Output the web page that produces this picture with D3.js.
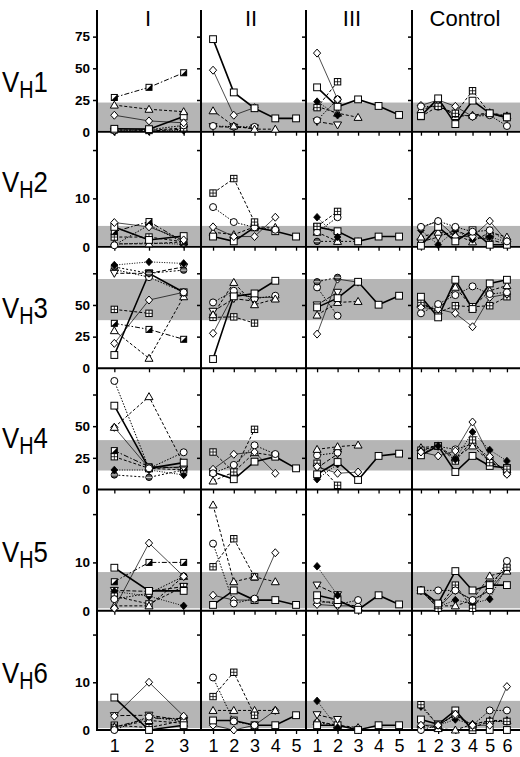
<!DOCTYPE html>
<html><head><meta charset="utf-8">
<script src="https://cdn.jsdelivr.net/npm/d3@7"></script>
<style>body{margin:0;background:#fff}svg{display:block}</style>
</head><body>
<svg id="c" width="520" height="757"></svg>
<script>
// ---------- DATA ----------
const columns = ["I", "II", "III", "Control"];
const rowNames = ["1", "2", "3", "4", "5", "6"];
const timepoints = [[1,2,3],[1,2,3,4,5],[1,2,3,4,5],[1,2,3,4,5,6]];
const rowMax = [96, 23.8, 96, 95.7, 25.1, 25];
const rowTicks = [[25,50,75],[10,20],[25,50,75],[25,50,75],[10,20],[10,20]];
const rowTickLabels = [[0,25,50,75],[0,10],[0,25,50],[0,25,50],[0,10],[0,10]];
const normalBand = [[1,23],[0.3,4.3],[38,70.5],[15,39],[0.5,8],[0.4,6.1]];

const VH1_I = [["hs",[27,35,46.5]],["tr",[21,17.7,15.8]],["di",[13,8.5,7]],["sq",[2.3,2,12]],["ci",[1,1.5,5]],["xs",[1.5,1,3]],["fd",[0.5,0.5,1]],["it",[0.3,0.5,2]]];
const VH1_II = [["sq",[73,31,18.5,10.5,10.5]],["di",[48.5,13,19]],["tr",[16.5,4.5,2,2]],["ci",[4.5,4,3.8]],["it",[4,3.5,3]]];
const VH1_III = [["di",[62,25.5]],["sq",[35,19.7,25.5,20.3,13.2]],["xs",[19,39.4]],["fd",[23.7,13]],["ci",[9,25.5]],["tr",[20,14.6,11.3]],["it",[8,5.3]]];
const VH1_C = [["sq",[12.4,26.3,6,24.5,14.5,11.3]],["xs",[12,20,14.5,32.3,14.5,12]],["ci",[20,19.7,14,12,13,4.5]],["di",[20.7,25,20,12,14.5,10.5]],["tr",[17,21.7,12,13,15,12.5]]];

const VH2_I = [["di",[5,4.1,1.4]],["sq",[4.1,1.4,2.2]],["hs",[3.1,5.2,1]],["ci",[0.3,4.5,0.8]],["xs",[2,2,1]],["tr",[0.6,0.6,1]],["fd",[0.5,0.8,0.5]]];
const VH2_II = [["xs",[11.1,14.1,5.1]],["ci",[8.2,5.1,4,3.5]],["di",[4.1,2.1,2.1,6.1]],["sq",[2.1,1.1,4,3.2,2.1]],["tr",[3,2.5,4.1,4]]];
const VH2_III = [["fd",[6.1,2]],["xs",[4.2,7.3]],["ci",[3,6.1]],["sq",[4.1,3.2,1.1,2.1,2.1]],["tr",[3,1.1]],["hx",[1.1,1.1,1.1]]];
const VH2_C = [["ci",[4.1,5.3,4.1,3.1,3.4,1.1]],["sq",[0.2,4.1,1.1,3.4,0.4,0.4]],["di",[3.9,5.3,2.1,2.1,5.3,1.1]],["fd",[3.4,0.4,3.4,1.5,2,1]],["tr",[2,3,2.5,1,3,2]],["it",[1,2,3.4,2,1.5,0.5]]];

const VH3_I = [["fd",[81.5,84,82.8]],["hx",[80,75,77.5]],["it",[75,75,80]],["ci",[78,72,60]],["sq",[10.5,75,60]],["di",[19.7,53.9,60]],["tr",[29.7,7.9,56.5]],["xs",[46.5,43.4]],["hs",[35.5,30.7,22.9]]];
const VH3_II = [["sq",[7.3,56.8,59.1,69.1]],["tr",[42.3,67.8,50.2,54.7]],["ci",[52,61.2,55,57.3]],["di",[27.6,58.6,56,56]],["xs",[40.2,40.6,35.7]],["it",[45,55,53]]];
const VH3_III = [["sq",[48.1,55.4,68.3,50.2,57.3]],["hx",[68.3,71.8]],["ci",[63.9,41.5]],["tr",[42,52,52.8]],["di",[27,70.4,68]],["it",[50,60]]];
const VH3_C = [["sq",[56.5,40.2,69.9,46.8,67,69.9]],["ci",[43.4,50.7,57.8,64.7,58.6,60]],["di",[48,46.8,43.4,32.8,56,58.6]],["xs",[52,44,49.4,48.6,49.4,56.5]],["tr",[50.7,45.4,64,48,61.2,65.3]]];

const VH4_I = [["ci",[85.7,16.7,29.4]],["sq",[66.2,16.7,21.2]],["tr",[49.1,73.3,20.1]],["di",[49.1,16.7,18]],["hs",[30.7,18,17]],["xs",[25.9,16.7,15.5]],["fd",[15.4,15.4,11.5]],["hx",[11.5,9.6,15.4]]];
const VH4_II = [["xs",[29.6,13.8,47.5]],["ci",[12.8,19.4,34.9,28]],["di",[16,27.8,29.6,12.8]],["sq",[13.8,8.1,22,25.9,16.7]],["tr",[6.7,13.8,29.1,26.5]]];
const VH4_III = [["tr",[31.7,33.8,35.1]],["sq",[12,21.7,7.5,26.5,28.3]],["ci",[27,29.1]],["di",[18,12.8,13.8]],["xs",[20.7,3.3]],["fd",[8.1,20]],["it",[17,28]]];
const VH4_C = [["di",[29.6,26.5,30.4,53.3,26,12]],["fd",[30.4,34.4,23.9,45.4,31.2,22.5]],["xs",[31,34.4,22.5,39.1,21.2,16]],["sq",[27,34.4,13.8,26.5,18.6,17]],["tr",[33,34.4,25.1,34.4,22,16]],["ci",[28.3,34,31.7,35.9,25.1,12.8]]];

const VH5_I = [["di",[0.5,14,7.1]],["sq",[8.9,4.1,4.1]],["hs",[6,10,10]],["ci",[2.4,3.6,7.1]],["tr",[1,1,7.1]],["xs",[3,1.4,5]],["fd",[4,3,1]],["it",[4.2,4,5]]];
const VH5_II = [["tr",[21.9,6,7,6]],["ci",[13.9,1.5,2.5]],["xs",[9.1,14.9,7]],["di",[3.2,2.2,2.2,12]],["sq",[1.2,4.2,2.2,2.2,1.2]]];
const VH5_III = [["fd",[9.2,3.2]],["it",[5.3,3.3]],["sq",[3.2,2.2,0.2,3.2,1.3]],["ci",[2.2,1.3,2.2]],["di",[1.3,1,1]],["tr",[1.8,1.8,0.8]]];
const VH5_C = [["sq",[4.2,1.5,8.2,4.2,5.3,5.3]],["ci",[4.2,4.2,4.2,2.2,4.2,10.3]],["xs",[4.2,0.5,5.3,0.5,5.5,9]],["tr",[4.2,1,1,2.2,7.2,8.2]],["fd",[4.2,0.8,2.2,1.5,2.4,9.4]],["di",[4.2,0.5,4.2,2.2,4.2,8.6]]];

const VH6_I = [["di",[2.9,10,2.9]],["sq",[6.8,0,1]],["ci",[0,2.8,1.7]],["tr",[0.6,2,1.4]],["hs",[0.6,2.5,2.4]],["xs",[1,0.5,2]],["it",[3,3.1,2]]];
const VH6_II = [["ci",[11,1.8,1]],["xs",[7,12.1,3.1]],["tr",[4.1,4.1,4.1,4.1]],["sq",[2,2,1,1,3.1]],["di",[1,0,1,4.1]]];
const VH6_III = [["fd",[6.1,0.5]],["it",[3.2,2.2]],["sq",[1,1,0,1,1]],["tr",[1.8,1,0.5]],["ci",[1.5,1,0.2]]];
const VH6_C = [["di",[1,1,3.3,1,1,9.1]],["ci",[0,1,3.1,1,4.1,4.1]],["xs",[5.3,1,3.3,0.5,1.8,1.8]],["fd",[4.9,1,2.2,1.2,1.8,1.8]],["sq",[2.2,1.2,4.1,0,0,0]],["tr",[1.2,0.3,0,1.2,2,2]]];

const panels = [
  [VH1_I, VH1_II, VH1_III, VH1_C],
  [VH2_I, VH2_II, VH2_III, VH2_C],
  [VH3_I, VH3_II, VH3_III, VH3_C],
  [VH4_I, VH4_II, VH4_III, VH4_C],
  [VH5_I, VH5_II, VH5_III, VH5_C],
  [VH6_I, VH6_II, VH6_III, VH6_C]
];

// ---------- LAYOUT ----------
const colRange = [[97,201],[201,306],[306,412],[412,520]];
const colDomain = [[0.5,3.5],[0.42,5.48],[0.46,5.63],[0.48,6.76]];
const rowZero = [131.7, 246.7, 368.3, 489.5, 610.7, 730];
const rowTop = [10, 131.7, 246.7, 368.3, 489.5, 610.7];
const labelBase = [92, 192, 318, 448, 562, 683];
const headerX = [148, 251, 352, 465];

const lineStyle = {
  sq: {w:1.6, d:null},
  ci: {w:1, d:"1.5,1.5"},
  di: {w:0.7, d:null},
  tr: {w:1, d:"3,2"},
  hs: {w:1, d:"5,2,1.5,2"},
  xs: {w:1, d:"3,2"},
  fd: {w:1, d:"1,1.5"},
  it: {w:1, d:"4,2"},
  hx: {w:1, d:"2,2"}
};

const svg = d3.select("#c");
const font = "Liberation Sans, Arial, Helvetica, sans-serif";

const xs = colRange.map((r,i)=>d3.scaleLinear().domain(colDomain[i]).range(r));
const ys = rowZero.map((z,i)=>d3.scaleLinear().domain([0,rowMax[i]]).range([z,rowTop[i]]));

// bands
const gBand = svg.append("g");
normalBand.forEach((b,i)=>{
  gBand.append("rect").attr("x",97).attr("width",520-97)
    .attr("y",ys[i](b[1])).attr("height",ys[i](b[0])-ys[i](b[1]))
    .attr("fill","#b5b5b5");
});

// axes
rowZero.forEach((z,ri)=>{
  colRange.forEach((cr,ci)=>{
    const ax = d3.axisLeft(ys[ri]).tickSize(4).tickPadding(3);
    if (ci===0) {
      ax.tickValues([0].concat(rowTicks[ri]))
        .tickFormat(d => rowTickLabels[ri].includes(d) ? d : "");
    } else {
      ax.tickValues(rowTicks[ri]).tickFormat("");
    }
    const g = svg.append("g").attr("transform",`translate(${cr[0]},0)`).call(ax);
    g.select(".domain").remove();
    g.selectAll("line").attr("stroke","#000").attr("stroke-width",1.5);
    g.selectAll("text").attr("font-family",font).attr("font-size",13.5).attr("font-weight","bold").attr("fill","#000");
    if (ci===0) g.selectAll(".tick").filter(d=>d===0).select("line").remove();
    // x ticks
    const bx = d3.axisBottom(xs[ci]).tickValues(timepoints[ci]).tickSize(4).tickPadding(5)
      .tickFormat(ri===5 ? d3.format("d") : "");
    const gx = svg.append("g").attr("transform",`translate(0,${z})`).call(bx);
    gx.select(".domain").remove();
    gx.selectAll("line").attr("stroke","#000").attr("stroke-width",1.3);
    gx.selectAll("text").attr("font-family",font).attr("font-size",18).attr("fill","#000");
  });
});

// frame lines
colRange.forEach(cr=>{
  svg.append("line").attr("x1",cr[0]).attr("x2",cr[0]).attr("y1",10).attr("y2",731)
    .attr("stroke","#000").attr("stroke-width",2);
});
rowZero.forEach(z=>{
  svg.append("line").attr("x1",96).attr("x2",520).attr("y1",z).attr("y2",z)
    .attr("stroke","#000").attr("stroke-width",2);
});

// markers
function drawMarker(g, type) {
  const s = 3.4;
  if (type==="sq") {
    g.append("rect").attr("x",-s).attr("y",-s).attr("width",2*s).attr("height",2*s).attr("fill","#fff").attr("stroke","#000").attr("stroke-width",1);
  } else if (type==="ci") {
    g.append("circle").attr("r",3.5).attr("fill","#fff").attr("stroke","#000").attr("stroke-width",1);
  } else if (type==="di") {
    g.append("path").attr("d","M0,-4L3.6,0L0,4L-3.6,0Z").attr("fill","#fff").attr("stroke","#000").attr("stroke-width",1);
  } else if (type==="tr") {
    g.append("path").attr("d","M0,-4L4,3L-4,3Z").attr("fill","#fff").attr("stroke","#000").attr("stroke-width",1);
  } else if (type==="it") {
    g.append("path").attr("d","M0,4L4,-3L-4,-3Z").attr("fill","#fff").attr("stroke","#000").attr("stroke-width",1);
  } else if (type==="hs") {
    g.append("rect").attr("x",-3).attr("y",-3).attr("width",6).attr("height",6).attr("fill","#fff").attr("stroke","#000").attr("stroke-width",1);
    g.append("path").attr("d","M3,-3L3,3L-3,3Z").attr("fill","#000");
  } else if (type==="xs") {
    g.append("rect").attr("x",-3.2).attr("y",-3.2).attr("width",6.4).attr("height",6.4).attr("fill","#fff").attr("stroke","#000").attr("stroke-width",1);
    g.append("path").attr("d","M0,-3.2V3.2M-3.2,0H3.2").attr("stroke","#000").attr("stroke-width",0.8);
  } else if (type==="fd") {
    g.append("path").attr("d","M0,-3.8L3.4,0L0,3.8L-3.4,0Z").attr("fill","#000").attr("stroke","#000").attr("stroke-width",0.8);
  } else if (type==="hx") {
    g.append("circle").attr("r",3.2).attr("fill","#555").attr("stroke","#000").attr("stroke-width",1);
    g.append("path").attr("d","M-3,0H3").attr("stroke","#fff").attr("stroke-width",0.8);
  }
}

panels.forEach((row,ri)=>{
  row.forEach((series,ci)=>{
    const x = xs[ci], y = ys[ri];
    const gl = svg.append("g");
    const gm = svg.append("g");
    const line = d3.line().x((d,i)=>x(timepoints[ci][i])).y(d=>y(d));
    series.forEach(([type,vals])=>{
      const st = lineStyle[type];
      gl.append("path").attr("d",line(vals)).attr("fill","none").attr("stroke","#000")
        .attr("stroke-width",st.w).attr("stroke-dasharray",st.d);
    });
    series.slice().reverse().forEach(([type,vals])=>{
      vals.forEach((v,i)=>{
        const g = gm.append("g").attr("transform",`translate(${x(timepoints[ci][i])},${y(v)})`);
        drawMarker(g,type);
      });
    });
  });
});

// column headers
columns.forEach((c,i)=>{
  svg.append("text").attr("x",headerX[i]).attr("y",26).attr("text-anchor","middle")
    .attr("font-family",font).attr("font-size",22).attr("fill","#000").text(c);
});

// row labels
rowNames.forEach((n,i)=>{
  const t = svg.append("text").attr("transform",`translate(2,${labelBase[i]}) scale(0.86,1)`)
    .attr("font-family",font).attr("fill","#000");
  t.append("tspan").attr("font-size",30).text("V");
  t.append("tspan").attr("font-size",23).attr("dy",6).text("H");
  t.append("tspan").attr("font-size",30).attr("dy",-6).text(n);
});
</script>
</body></html>
